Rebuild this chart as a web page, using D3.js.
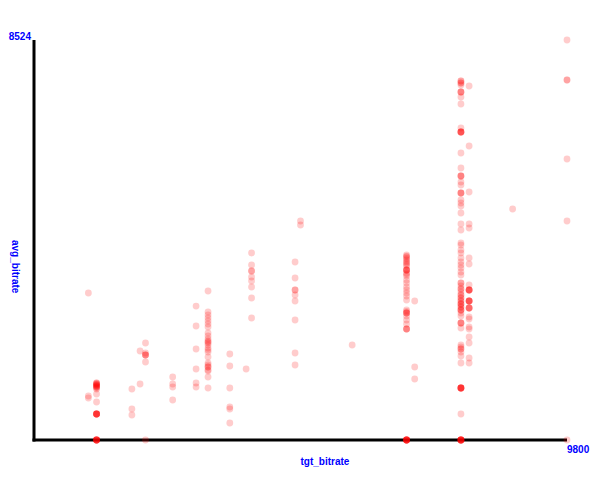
<!DOCTYPE html>
<html>
<head>
<meta charset="utf-8">
<script src="https://cdn.jsdelivr.net/npm/d3@7"></script>
<style>
  html, body { margin: 0; padding: 0; background: #fff; }
  svg { display: block; }
  text { font-family: "Liberation Sans", Arial, sans-serif; font-weight: bold; font-size: 10px; fill: #0000ff; }
</style>
</head>
<body>
<svg id="chart" width="600" height="480"></svg>
<script>
// ---- data ----
const xLabel = "tgt_bitrate";
const yLabel = "avg_bitrate";
const xMax = 9800;
const yMax = 8524;
const tickLabels = ["8524", "9800"];

const tgtValues = [1000, 1150, 1800, 1950, 2050, 2550, 2980, 3200, 3600, 3900, 4000, 4800, 4900, 5850, 6850, 7000, 7850, 8000, 8800, 9800];

const avgValues = [
  [3133, 938, 895],
  [1215, 1215, 1193, 1193, 1172, 1172, 1151, 1151, 1129, 1129, 1108, 1087, 980, 810,
   554, 554, 554, 554, 554, 554, 554, 0, 0, 0, 0, 0, 0, 0, 0],
  [1087, 661, 533],
  [1897, 1193],
  [2067, 1854, 1811, 1811, 1811, 1662, 0],
  [1343, 1193, 1129, 852],
  [2855, 2429, 1939, 1513, 1215, 1129],
  [3175, 2728, 2664, 2600, 2536, 2472, 2408, 2280, 2216, 2152, 2110, 2088, 2067, 2024, 1961, 1918, 1875, 1769, 1641, 1598, 1556, 1556, 1492, 1470, 1343, 1108],
  [1833, 1577, 1108, 703, 661, 362],
  [1513],
  [3985, 3729, 3601, 3601, 3474, 3388, 3260, 3026, 2600],
  [3793, 3452, 3197, 3197, 3090, 2962, 2557, 1854, 1598],
  [4667, 4582],
  [2024],
  [3942, 3920, 3900, 3870, 3836, 3800, 3772, 3740, 3708, 3623, 3623, 3623, 3623, 3559, 3530, 3495, 3410, 3346, 3260, 3197, 3133, 3069, 2983,
   2770, 2740, 2706, 2706, 2706, 2642, 2557, 2472, 2365, 2365, 2365, 0, 0, 0, 0, 0, 0, 0, 0, 0],
  [2962, 1556, 1300],
  [7650, 7650, 7608, 7608, 7565, 7416, 7416, 7416, 7309, 7160, 6649, 6563, 6563, 6563, 6563, 6563, 6116, 5796, 5626, 5626, 5626, 5498, 5434,
   5264, 5264, 5264, 5114, 5050, 4987, 4837, 4603, 4475,
   4198, 4155, 4049, 3985, 3878, 3793, 3729, 3665, 3580, 3516, 3346, 3346, 3282, 3218, 3218, 3154, 3090, 3090, 3026, 3026, 2962, 2962, 2898, 2898, 2898, 2834,
   2834, 2770, 2770, 2770, 2706, 2642, 2493, 2493, 2493, 2387, 2024, 1982, 1939, 1939, 1875, 1790, 1641,
   1108, 1108, 1108, 1108, 1108, 1108, 1108, 554, 0, 0, 0, 0, 0, 0, 0, 0, 0],
  [7544, 6265, 5285, 4603, 4518, 3878, 3751, 3303, 3197, 3197, 3197, 3197, 3197, 2962, 2962, 2962, 2962, 2962, 2813, 2813, 2813, 2813, 2621, 2578, 2408, 2365, 2195, 2067, 1747, 1641],
  [4923],
  [8524, 7672, 7672, 5988, 4667, 0]
];

// ---- drawing ----
const svg = d3.select("#chart");
const x = d3.scaleLinear().domain([0, xMax]).range([34, 567]);
const y = d3.scaleLinear().domain([0, yMax]).range([440, 40]);

const points = [];
tgtValues.forEach((t, i) => avgValues[i].forEach(a => points.push({ t, a })));

// axes
svg.append("line")
  .attr("x1", x(0)).attr("x2", x(0))
  .attr("y1", y(0) + 1.5).attr("y2", y(yMax))
  .attr("stroke", "#000").attr("stroke-width", 3);
svg.append("line")
  .attr("x1", x(0) - 1.5).attr("x2", x(xMax))
  .attr("y1", y(0)).attr("y2", y(0))
  .attr("stroke", "#000").attr("stroke-width", 3);

// points
svg.append("g").selectAll("circle")
  .data(points)
  .join("circle")
  .attr("cx", d => x(d.t))
  .attr("cy", d => y(d.a))
  .attr("r", 3.4)
  .attr("fill", "#ff0000")
  .attr("fill-opacity", 0.2);

// tick labels
svg.append("text")
  .attr("x", x(0) - 3).attr("y", y(yMax))
  .attr("text-anchor", "end")
  .text(tickLabels[0]);
svg.append("text")
  .attr("x", x(xMax)).attr("y", y(0) + 12.5)
  .attr("text-anchor", "start")
  .text(tickLabels[1]);

// axis titles
svg.append("text")
  .attr("x", (x(0) + x(xMax)) / 2).attr("y", 465)
  .attr("text-anchor", "start")
  .text(xLabel);
svg.append("text")
  .attr("transform", `translate(12,${(y(0) + y(yMax)) / 2}) rotate(90)`)
  .attr("text-anchor", "start")
  .text(yLabel);
</script>
</body>
</html>
